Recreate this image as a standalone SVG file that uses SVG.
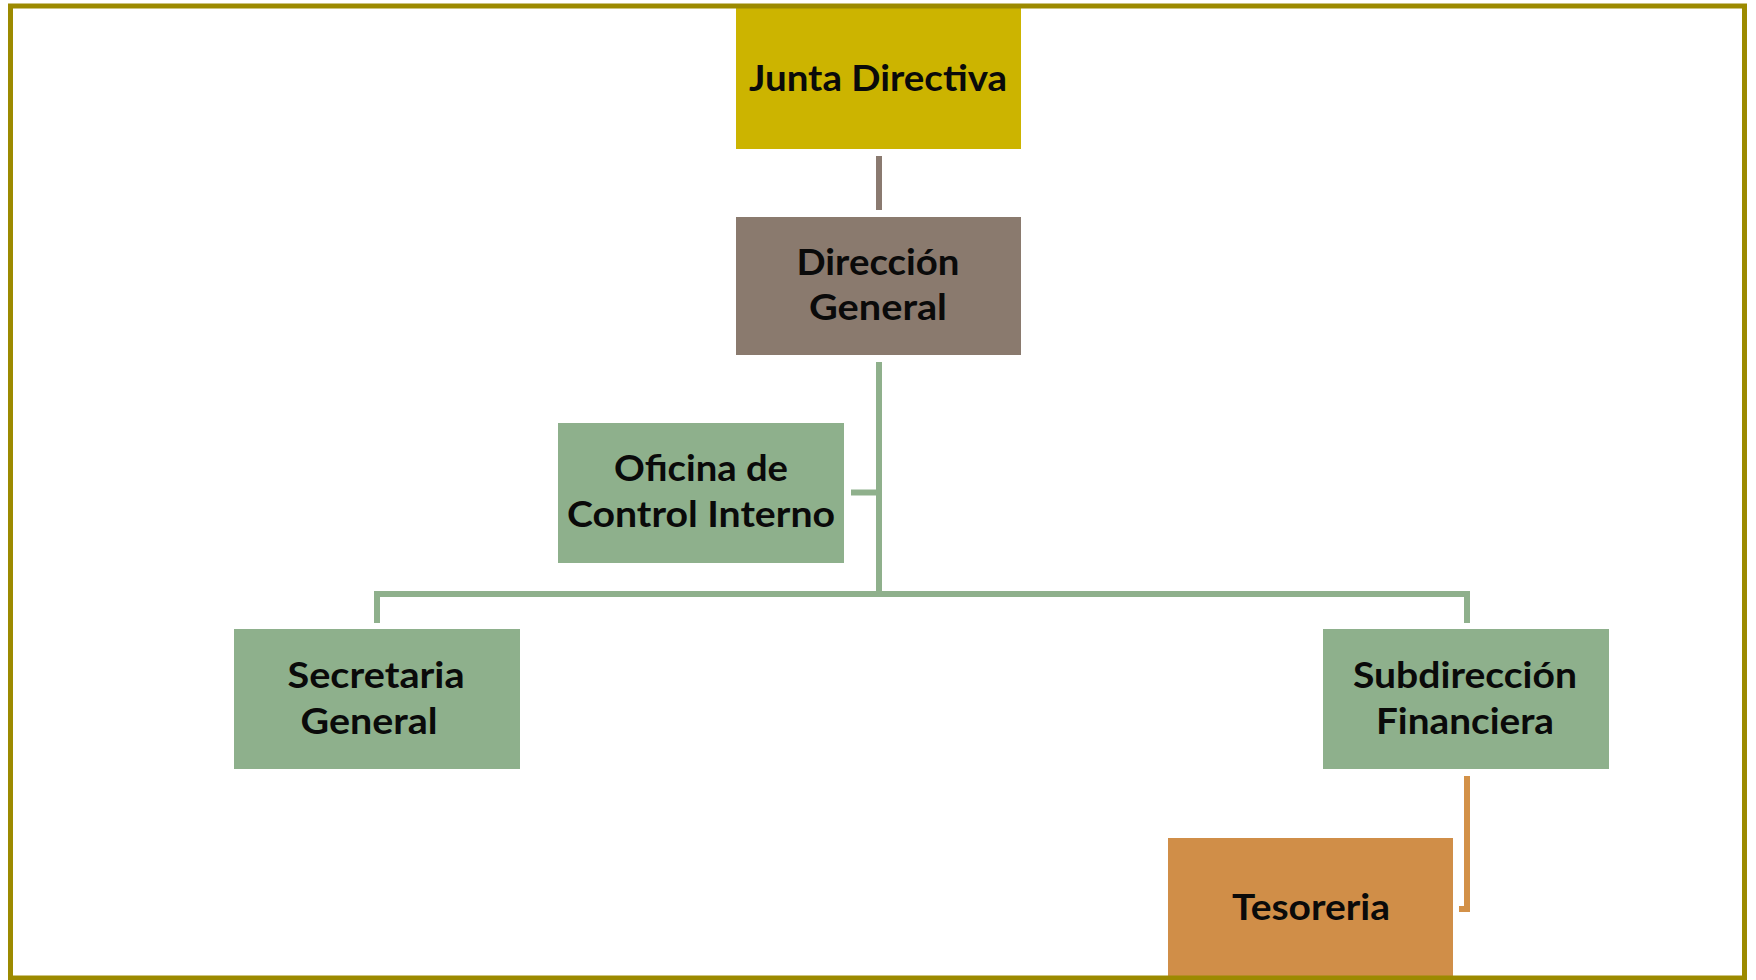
<svg xmlns="http://www.w3.org/2000/svg" width="1756" height="980" viewBox="0 0 1756 980">
<style>
.lbl{font-family:Lato,"Open Sans","Liberation Sans",sans-serif;font-weight:bold;font-size:37px;fill:#0a0a0a;text-anchor:middle}
.green{fill:#8eb08c}
.conn{fill:none;stroke-width:6;stroke-linecap:butt;stroke-linejoin:miter}
</style>
<rect x="0" y="0" width="1756" height="980" fill="#ffffff"/>
<g id="connectors">
<line class="conn" x1="879" y1="156" x2="879" y2="210" stroke="#8a7a70"/>
<polyline class="conn" points="879,362 879,594" stroke="#8fb08c"/>
<line class="conn" x1="851" y1="492.5" x2="879" y2="492.5" stroke="#8fb08c"/>
<polyline class="conn" points="377,623 377,594 1467,594 1467,623" stroke="#8fb08c"/>
<polyline class="conn" points="1467,776 1467,909 1459,909" stroke="#d39148"/>
</g>
<g id="junta">
<rect x="736" y="8" width="285" height="141" fill="#ccb400"/>
<text class="lbl" x="878" y="91" textLength="258" lengthAdjust="spacingAndGlyphs">Junta Directiva</text>
</g>
<g id="direccion">
<rect x="736" y="217" width="285" height="138" fill="#8a7a6e"/>
<text class="lbl" x="878" y="275" textLength="163" lengthAdjust="spacingAndGlyphs">Dirección</text>
<text class="lbl" x="878" y="320" textLength="138" lengthAdjust="spacingAndGlyphs">General</text>
</g>
<g id="oficina">
<rect class="green" x="558" y="423" width="286" height="140"/>
<text class="lbl" x="701" y="481" textLength="174" lengthAdjust="spacingAndGlyphs">Oficina de</text>
<text class="lbl" x="701" y="527" textLength="268" lengthAdjust="spacingAndGlyphs">Control Interno</text>
</g>
<g id="secretaria">
<rect class="green" x="234" y="629" width="286" height="140"/>
<text class="lbl" x="376" y="688" textLength="177" lengthAdjust="spacingAndGlyphs">Secretaria</text>
<text class="lbl" x="369" y="734" textLength="137" lengthAdjust="spacingAndGlyphs">General</text>
</g>
<g id="subdireccion">
<rect class="green" x="1323" y="629" width="286" height="140"/>
<text class="lbl" x="1465" y="688" textLength="224" lengthAdjust="spacingAndGlyphs">Subdirección</text>
<text class="lbl" x="1465" y="734" textLength="178" lengthAdjust="spacingAndGlyphs">Financiera</text>
</g>
<g id="tesoreria">
<rect x="1168" y="838" width="285" height="142" fill="#d08e48"/>
<text class="lbl" x="1311" y="920" textLength="158" lengthAdjust="spacingAndGlyphs">Tesoreria</text>
</g>
<rect id="frame" x="10.5" y="6" width="1734" height="972" fill="none" stroke="#9c8a00" stroke-width="5"/>
</svg>
